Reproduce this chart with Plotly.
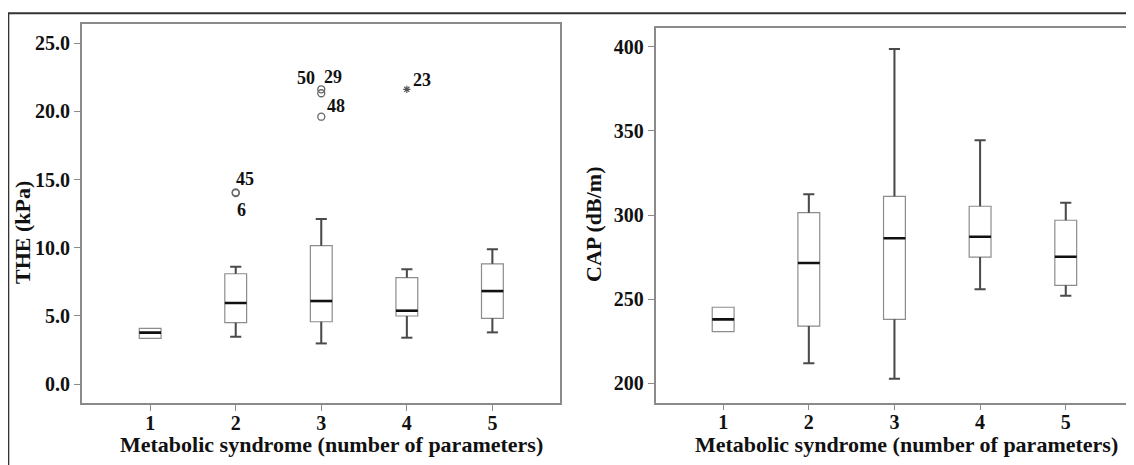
import plotly.graph_objects as go

# ---------------- data ----------------
categories = [1, 2, 3, 4, 5]
tick_labels = ["1", "2", "3", "4", "5"]

# THE (kPa)
the_lower = [3.35, 3.47, 2.98, 3.40, 3.79]
the_q1 = [3.35, 4.50, 4.57, 4.99, 4.82]
the_median = [3.77, 5.94, 6.09, 5.38, 6.82]
the_q3 = [4.08, 8.09, 10.15, 7.80, 8.82]
the_upper = [4.08, 8.61, 12.11, 8.42, 9.88]

# outliers (circles) and extremes (stars)
the_out_x = [2, 2, 3, 3, 3]
the_out_y = [14.06, 14.00, 21.62, 21.33, 19.61]
the_out_id = ["45", "6", "50", "29", "48"]
the_ext_x = [4]
the_ext_y = [21.62]
the_ext_id = ["23"]

# CAP (dB/m)
cap_lower = [230.7, 211.9, 202.7, 255.9, 252.0]
cap_q1 = [230.7, 234.0, 238.0, 275.0, 258.2]
cap_median = [238.0, 271.5, 286.2, 287.1, 275.2]
cap_q3 = [245.2, 301.4, 311.1, 305.2, 296.9]
cap_upper = [245.2, 312.3, 398.6, 344.4, 307.3]

the_ticks = [0, 5, 10, 15, 20, 25]
the_ticktext = ["0.0", "5.0", "10.0", "15.0", "20.0", "25.0"]
cap_ticks = [200, 250, 300, 350, 400]

# ---------------- style ----------------
FONT = "Liberation Serif"
BOX_W = 0.255
CAP_W = 0.13
BOX_LINE = "#8c8c8c"
WHISK = "#4a4a4a"
AXIS_LINE = "#8a8a8a"
TXT = "#111111"

# the page body has an 8px margin: lay out in page pixels, then convert
OX, OY = 8, 8
W, H = 1134 - OX, 465 - OY


def px(xp):
    return (xp - OX) / W


def py(yp):
    return (H - (yp - OY)) / H


fig = go.Figure()


def add_panel(xa, ya, lower, q1, med, q3, upper):
    fig.add_trace(go.Box(
        x=categories, lowerfence=lower, q1=q1, median=med, q3=q3, upperfence=upper,
        width=BOX_W, whiskerwidth=0, fillcolor="white",
        line=dict(color=BOX_LINE, width=1.2), boxpoints=False,
        xaxis=xa, yaxis=ya, showlegend=False, hoverinfo="skip",
    ))
    wx, wy = [], []
    for c, lo, a, b, hi in zip(categories, lower, q1, q3, upper):
        if hi > b:
            wx += [c, c, None, c - CAP_W / 2, c + CAP_W / 2, None]
            wy += [b, hi, None, hi, hi, None]
        if lo < a:
            wx += [c, c, None, c - CAP_W / 2, c + CAP_W / 2, None]
            wy += [a, lo, None, lo, lo, None]
    fig.add_trace(go.Scatter(x=wx, y=wy, mode="lines",
                             line=dict(color=WHISK, width=2),
                             xaxis=xa, yaxis=ya, showlegend=False, hoverinfo="skip"))
    mx, my = [], []
    for c, m in zip(categories, med):
        mx += [c - BOX_W / 2, c + BOX_W / 2, None]
        my += [m, m, None]
    fig.add_trace(go.Scatter(x=mx, y=my, mode="lines",
                             line=dict(color="#111111", width=2.6),
                             xaxis=xa, yaxis=ya, showlegend=False, hoverinfo="skip"))


add_panel("x", "y", the_lower, the_q1, the_median, the_q3, the_upper)
add_panel("x2", "y2", cap_lower, cap_q1, cap_median, cap_q3, cap_upper)

fig.add_trace(go.Scatter(x=the_out_x, y=the_out_y, mode="markers",
                         marker=dict(symbol="circle-open", size=7, color="#666666",
                                     line=dict(width=1.3, color="#666666")),
                         xaxis="x", yaxis="y", showlegend=False, hoverinfo="skip"))
fig.add_trace(go.Scatter(x=the_ext_x, y=the_ext_y, mode="markers",
                         marker=dict(symbol="asterisk-open", size=6, color="#555555",
                                     line=dict(width=1.2, color="#555555")),
                         xaxis="x", yaxis="y", showlegend=False, hoverinfo="skip"))

# outlier labels
label_shift = {"45": (9, 13), "6": (6, -17), "50": (-15, 11), "29": (12, 16),
               "48": (15, 11), "23": (15, 9)}
for xv, yv, lab in list(zip(the_out_x, the_out_y, the_out_id)) + list(zip(the_ext_x, the_ext_y, the_ext_id)):
    dx, dy = label_shift[lab]
    fig.add_annotation(x=xv, y=yv, xref="x", yref="y", text=lab, showarrow=False,
                       xshift=dx, yshift=dy, xanchor="center", yanchor="middle",
                       font=dict(family=FONT, size=18, color=TXT, weight="bold"))

axis_common = dict(showline=True, mirror=True, linecolor=AXIS_LINE, linewidth=1.5,
                   showgrid=False, zeroline=False, ticks="outside", ticklen=6,
                   tickcolor=AXIS_LINE, tickwidth=1.3,
                   tickfont=dict(family=FONT, size=20, color=TXT, weight="bold"))

fig.update_layout(
    width=W, height=H, margin=dict(l=0, r=0, t=0, b=0),
    paper_bgcolor="white", plot_bgcolor="white",
    xaxis=dict(domain=[px(81.7), px(560)], range=[0.2, 5.79], anchor="y",
               tickvals=categories, ticktext=tick_labels, ticklabelstandoff=-5,
               **axis_common),
    yaxis=dict(domain=[py(403), py(24)], range=[-1.39, 26.41], anchor="x",
               tickvals=the_ticks, ticktext=the_ticktext, **axis_common),
    xaxis2=dict(domain=[px(655.5), px(1131.7)], range=[0.21, 5.77], anchor="y2",
                tickvals=categories, ticktext=tick_labels, ticklabelstandoff=-5,
                **axis_common),
    yaxis2=dict(domain=[py(402.5), py(27.7)], range=[188.6, 411.3], anchor="x2",
                tickvals=cap_ticks, **axis_common),
)

title_font = dict(family=FONT, size=22, color=TXT, weight="bold")
for cx in (331, 906):
    fig.add_annotation(x=px(cx), y=py(444), xref="paper", yref="paper",
                       xanchor="center", yanchor="middle",
                       text="Metabolic syndrome (number of parameters)", showarrow=False,
                       font=title_font)
fig.add_annotation(x=px(22), y=py(233), xref="paper", yref="paper",
                   xanchor="center", yanchor="middle",
                   text="THE (kPa)", textangle=-90, showarrow=False, font=title_font)
fig.add_annotation(x=px(593), y=py(224), xref="paper", yref="paper",
                   xanchor="center", yanchor="middle",
                   text="CAP (dB/m)", textangle=-90, showarrow=False, font=title_font)

# outer frame lines
fig.add_shape(type="line", xref="paper", yref="paper", x0=0, x1=1,
              y0=py(13.3), y1=py(13.3), line=dict(color="#333333", width=2))
fig.add_shape(type="line", xref="paper", yref="paper", x0=px(8.3), x1=px(8.3),
              y0=0, y1=py(13.3), line=dict(color="#333333", width=2))

fig.write_html("out.html")
